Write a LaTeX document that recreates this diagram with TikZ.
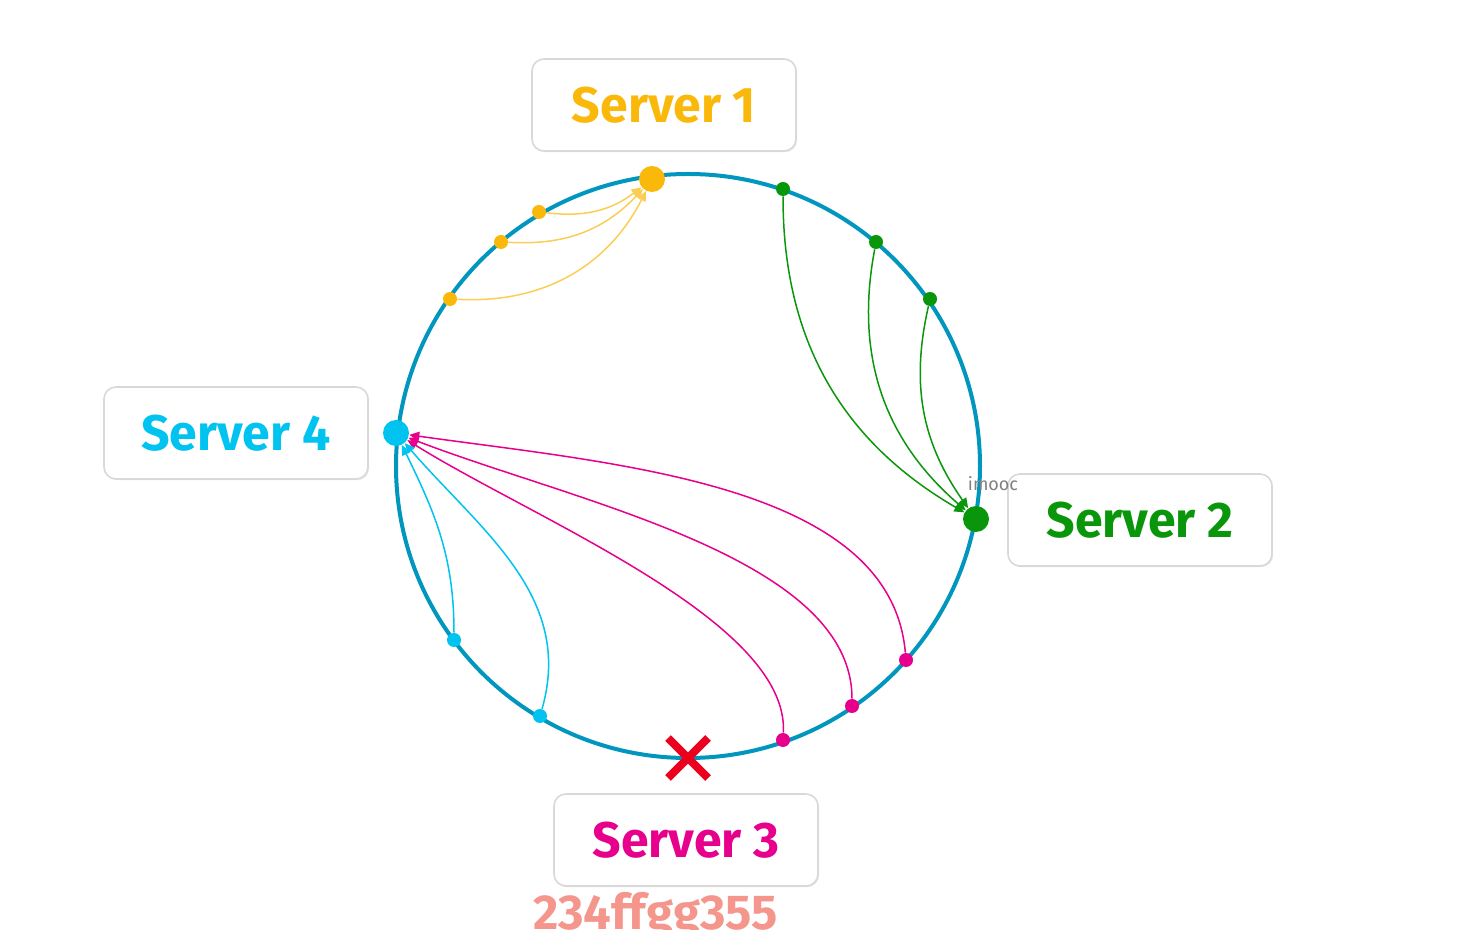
\documentclass[tikz,border=0pt]{standalone}
\usepackage{fontspec}
\setmainfont{Fira Sans}
\usetikzlibrary{positioning,%
  arrows.meta,%
  shadows%
}
\definecolor{ringblue}{RGB}{0,150,190}
\definecolor{srvyellow}{RGB}{250,185,10}
\definecolor{srvgreen}{RGB}{10,150,10}
\definecolor{srvpink}{RGB}{230,0,140}
\definecolor{srvcyan}{RGB}{0,195,240}
\definecolor{crossred}{RGB}{235,0,30}
\definecolor{markred}{RGB}{245,150,140}

\tikzset{
  srvbox/.style={draw=gray!30, line width=0.8pt, fill=white, rounded corners=6pt,
    minimum width=132pt, minimum height=46pt, text=#1,
    drop shadow={opacity=0.18, shadow xshift=0.6pt, shadow yshift=-0.6pt},
    font=\bfseries\fontsize{25}{30}\selectfont},
  bigdot/.style={circle, fill=#1, inner sep=0pt, minimum size=13pt},
  smalldot/.style={circle, fill=#1, inner sep=0pt, minimum size=7pt},
  hop/.style={draw=#1, line width=0.75pt, -{Triangle[length=5pt,width=4.5pt]}}
}

\begin{document}
\begin{tikzpicture}[x=0.5pt,y=-0.5pt]
                    \useasboundingbox (0,0) rectangle (1464,930);
                    % ring
                    \draw[ringblue, line width=2pt] (688,466) circle (292);

                    % server labels
                    \node[srvbox=srvyellow] (srv1) at (664,105) {Server 1};
                    \node[srvbox=srvgreen] (srv2) at (1140,520) {Server 2};
                    \node[srvbox=srvpink] (srv3) at (686,840) {Server 3};
                    \node[srvbox=srvcyan] (srv4) at (236,433) {Server 4};

                    % servers on the ring
                    \node[bigdot=srvyellow] (s1) at (652,179) {};
                    \node[bigdot=srvgreen] (s2) at (976,519) {};
                    \node[bigdot=srvcyan] (s4) at (396,433) {};

                    % keys
                    \node[smalldot=srvyellow] (y1) at (539,212) {};
                    \node[smalldot=srvyellow] (y2) at (501,242) {};
                    \node[smalldot=srvyellow] (y3) at (450,299) {};
                    \node[smalldot=srvgreen] (g1) at (783,189) {};
                    \node[smalldot=srvgreen] (g2) at (876,242) {};
                    \node[smalldot=srvgreen] (g3) at (930,299) {};
                    \node[smalldot=srvpink] (p1) at (906,660) {};
                    \node[smalldot=srvpink] (p2) at (852,706) {};
                    \node[smalldot=srvpink] (p3) at (783,740) {};
                    \node[smalldot=srvcyan] (c1) at (454,640) {};
                    \node[smalldot=srvcyan] (c2) at (540,716) {};

                    % keys to their server
                    \draw[hop=srvyellow!70] (y1) to[bend right=22] (s1);
                    \draw[hop=srvyellow!70] (y2) to[bend right=25] (s1);
                    \draw[hop=srvyellow!70] (y3) to[bend right=33] (s1);
                    \draw[hop=srvgreen] (g1) to[bend right=30] (s2);
                    \draw[hop=srvgreen] (g2) to[bend right=30] (s2);
                    \draw[hop=srvgreen] (g3) to[bend right=24] (s2);
                    \draw[hop=srvpink] (p1) to[out=95, in=-8, out looseness=0.8, in looseness=1.0] (s4);
                    \draw[hop=srvpink] (p2) to[out=90, in=-21, out looseness=0.7, in looseness=0.9] (s4);
                    \draw[hop=srvpink] (p3) to[out=87, in=-32, out looseness=0.6, in looseness=0.8] (s4);
                    \draw[hop=srvcyan] (c1) to[out=90, in=-64] (s4);
                    \draw[hop=srvcyan] (c2) to[out=74, in=-49] (s4);

                    % server 3 is gone
                    \coordinate (s3) at (688,758);
                    \draw[crossred, line width=4pt] (s3) ++(-20,-20) -- ++(40,40);
                    \draw[crossred, line width=4pt] (s3) ++(20,-20) -- ++(-40,40);

                    \node[gray, font=\fontsize{9}{10}\selectfont] (wm) at (993,484) {imooc};
                    \node[markred, anchor=base west, inner sep=0pt,
                      font=\bfseries\fontsize{24.5}{28}\selectfont] (hash) at (533,929) {234ffgg355};
                \end{tikzpicture}
\end{document}
